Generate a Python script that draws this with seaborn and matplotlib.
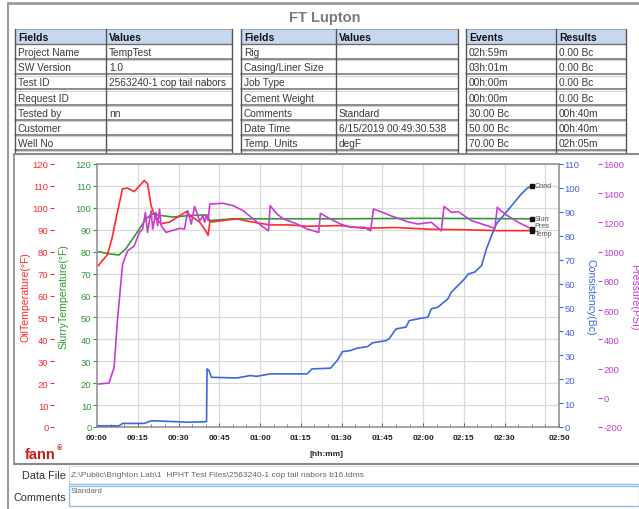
import numpy as np
import matplotlib
matplotlib.use("Agg")
import matplotlib.pyplot as plt
from matplotlib.patches import Rectangle
from matplotlib.ticker import FixedLocator, MultipleLocator, FuncFormatter
import seaborn as sns

# ---- values (time in minutes from start) ----
oil_t = [0.5, 2.0, 3.8, 5.5, 7.5, 9.4, 11.2, 13.7, 15.6, 17.4, 18.6, 19.9, 21.7, 23.6, 26.7,
         29.7, 32.9, 34.1, 37.8, 40.3, 40.9, 41.5, 46.4, 51.4, 56.3, 63.7, 71.1, 77.3, 89.6,
         98.0, 110.0, 123.0, 135.0, 147.7, 160.0]
oil_temp = [73.6, 76.0, 78.5, 86.0, 98.0, 108.7, 109.0, 107.4, 110.0, 112.5, 111.0, 101.0, 95.0,
            92.7, 93.5, 95.8, 98.3, 96.5, 93.5, 88.9, 87.4, 93.5, 94.2, 95.0, 93.7, 92.2, 92.2,
            91.6, 91.9, 90.7, 91.0, 90.2, 90.0, 89.6, 89.6]

slurry_t = [0.5, 4.5, 8.1, 10.6, 13.1, 15.6, 18.0, 20.5, 23.6, 27.9, 34.1, 40.3, 41.5, 50.1,
            58.8, 71.1, 89.6, 120.0, 160.0]
slurry_temp = [80.0, 79.0, 78.5, 81.3, 85.8, 90.4, 95.0, 97.3, 96.5, 95.8, 96.5, 96.8, 94.2,
               95.0, 95.0, 95.0, 95.0, 95.2, 95.0]

press_t = [0.5, 4.4, 6.3, 7.5, 9.4, 11.2, 13.7, 15.6, 16.8, 17.8, 18.6, 19.9, 20.5, 21.7, 22.3,
           23.0, 23.6, 25.4, 30.4, 32.2, 33.4, 34.7, 35.9, 37.8, 39.0, 39.6, 40.3, 40.9, 41.5,
           46.4, 50.1, 53.8, 57.5, 61.2, 63.1, 63.7, 66.2, 68.6, 73.6, 77.3, 81.6, 82.2, 85.9,
           89.6, 93.3, 98.3, 100.7, 101.7, 104.4, 108.1, 114.3, 118.0, 123.0, 126.7, 127.7,
           130.4, 132.9, 137.8, 142.7, 146.4, 147.3, 150.1, 155.0, 160.0]
pressure = [94, 101, 208, 527, 910, 1004, 1040, 1132, 1155, 1269, 1132, 1280, 1155, 1269, 1178,
            1292, 1178, 1132, 1160, 1155, 1280, 1189, 1310, 1212, 1246, 1201, 1251, 1212, 1326,
            1331, 1315, 1280, 1224, 1167, 1143, 1315, 1258, 1224, 1189, 1155, 1132, 1262, 1224,
            1189, 1167, 1167, 1143, 1292, 1274, 1246, 1205, 1189, 1201, 1143, 1310, 1269, 1274,
            1212, 1183, 1160, 1303, 1258, 1201, 1155]

cons_t = [0.5, 8.1, 9.4, 17.4, 19.9, 29.7, 32.9, 40.3, 40.5, 41.2, 42.1, 51.4, 56.3, 58.8,
          63.7, 77.3, 79.1, 85.9, 88.4, 90.3, 93.3, 95.8, 99.5, 101.4, 106.3, 107.5, 110.0,
          113.7, 114.9, 119.3, 121.7, 123.0, 125.4, 129.1, 130.4, 135.3, 136.6, 139.0, 141.5,
          143.3, 145.2, 147.0, 150.1, 153.2, 155.7, 158.1, 160.0]
consistency = [0.5, 0.5, 1.5, 1.5, 2.6, 2.2, 2.0, 2.2, 24.3, 23.6, 20.8, 20.5, 21.5, 21.2,
               22.2, 22.2, 24.3, 24.6, 27.8, 31.5, 32.0, 33.0, 33.6, 35.2, 36.1, 36.9, 41.0,
               41.8, 44.5, 45.5, 45.9, 49.4, 50.1, 53.6, 56.4, 62.0, 64.0, 64.8, 67.5, 74.5,
               80.1, 85.0, 89.2, 93.4, 96.9, 99.7, 101.0]

x_ticks = [0, 15, 30, 45, 60, 75, 90, 105, 120, 135, 150, 170]

left_rows = [("Project Name", "TempTest"), ("SW Version", "1.0"),
             ("Test ID", "2563240-1 cop tail nabors"), ("Request ID", ""),
             ("Tested by", "nn"), ("Customer", ""), ("Well No", "")]
mid_rows = [("Rig", ""), ("Casing/Liner Size", ""), ("Job Type", ""), ("Cement Weight", ""),
            ("Comments", "Standard"), ("Date Time", "6/15/2019 00:49:30.538"),
            ("Temp. Units", "degF")]
event_rows = [("02h:59m", "0.00 Bc"), ("03h:01m", "0.00 Bc"), ("00h:00m", "0.00 Bc"),
              ("00h:00m", "0.00 Bc"), ("30.00 Bc", "00h:40m"), ("50.00 Bc", "00h:40m"),
              ("70.00 Bc", "02h:05m")]

RED, GREEN, BLUE, MAG = "#ff2a2a", "#2f9a2f", "#3a68e0", "#c93bd6"

sns.set_style("white")
plt.rcParams["font.family"] = ["Liberation Sans", "DejaVu Sans"]
plt.rcParams["axes.unicode_minus"] = False

W, H = 639, 510
fig = plt.figure(figsize=(W / 100, H / 100), dpi=100)


def box(x0, y0, x1, y1):
    return [x0 / W, 1 - y1 / H, (x1 - x0) / W, (y1 - y0) / H]


# background layer in pixel coordinates for the report frame and tables
bg = fig.add_axes([0, 0, 1, 1])
bg.set_xlim(0, W)
bg.set_ylim(H, 0)
bg.axis("off")

bg.plot([8, 639], [4, 4], color="#9a9a9a", lw=2)
bg.plot([8, 8], [4, 510], color="#9a9a9a", lw=1.5)
bg.text(325, 18, "FT Lupton", ha="center", va="center", fontsize=10.5, fontweight="bold",
        color="#7a7a7a")


def draw_table(x0, xm, x1, head, rows):
    top, hb, rh = 30, 45, 15.15
    bg.add_patch(Rectangle((x0, top), x1 - x0, hb - top, facecolor="#c6d8ef", edgecolor="none"))
    bg.text(x0 + 3, (top + hb) / 2 + 0.5, head[0], fontsize=7.5, fontweight="bold",
            va="center", color="#111")
    bg.text(xm + 3, (top + hb) / 2 + 0.5, head[1], fontsize=7.5, fontweight="bold",
            va="center", color="#111")
    bottom = hb + rh * len(rows)
    for i, (a, b) in enumerate(rows):
        yc = hb + rh * (i + 0.5) + 0.5
        cell_a = Rectangle((x0, hb + rh * i), xm - x0 - 1, rh, transform=bg.transData)
        cell_b = Rectangle((xm, hb + rh * i), x1 - xm - 1, rh, transform=bg.transData)
        ta = bg.text(x0 + 3, yc, a, fontsize=7.3, va="center", color="#3a3a3a")
        tb = bg.text(xm + 3, yc, b, fontsize=7.3, va="center", color="#3a3a3a")
        ta.set_clip_path(cell_a)
        tb.set_clip_path(cell_b)
        yl = hb + rh * (i + 1)
        bg.plot([x0, x1], [yl, yl], color="#6e6e6e", lw=1.1)
        bg.plot([x0, x1], [yl + 1.3, yl + 1.3], color="#c8c8c8", lw=0.6)
    bg.plot([x0, x1], [hb, hb], color="#6e6e6e", lw=1.0)
    bg.plot([x0, x1], [top, top], color="#9a9a9a", lw=0.6)
    for xx in (x0, xm, x1):
        bg.plot([xx, xx], [top, bottom + 1.5], color="#555", lw=1.0)


draw_table(15, 106, 232, ("Fields", "Values"), left_rows)
draw_table(241, 336, 458, ("Fields", "Values"), mid_rows)
draw_table(466, 556, 626, ("Events", "Results"), event_rows)

# chart box
bg.plot([14, 639], [155, 155], color="#8a8a8a", lw=1.5)
bg.plot([14, 639], [465, 465], color="#8a8a8a", lw=1.5)
bg.plot([14, 14], [155, 465], color="#8a8a8a", lw=1.2)

# data file / comments fields
bg.text(66, 476, "Data File", ha="right", va="center", fontsize=7.8, color="#333")
bg.add_patch(Rectangle((69, 467), 570, 18, facecolor="white", edgecolor="#d5d5d5", lw=0.6))
bg.plot([69, 639], [485, 485], color="#8dbde8", lw=1.0)
bg.text(71, 476, r"Z:\Public\Brighton Lab\1  HPHT Test Files\2563240-1 cop tail nabors b16.tdms",
        va="center", fontsize=6.0, color="#666")
bg.text(66, 498, "Comments", ha="right", va="center", fontsize=7.8, color="#333")
bg.add_patch(Rectangle((69, 487), 570, 20, facecolor="white", edgecolor="#8dbde8", lw=1.0))
bg.text(71, 492, "Standard", va="center", fontsize=5.6, color="#666")

# fann logo
bg.text(25, 455, "fann", fontsize=10.5, fontweight="bold", color="#d01818", va="center")
bg.text(57, 449, "®", fontsize=5, fontweight="bold", color="#d01818", va="center")

# ---- the chart ----
ax = fig.add_axes(box(97, 165, 559, 428))
ax_red = ax.twinx()
ax_bc = ax.twinx()
ax_p = ax.twinx()

sns.lineplot(x=slurry_t, y=slurry_temp, ax=ax, color=GREEN, lw=1.2, estimator=None)
sns.lineplot(x=oil_t, y=oil_temp, ax=ax_red, color=RED, lw=1.2, estimator=None)
sns.lineplot(x=cons_t, y=consistency, ax=ax_bc, color=BLUE, lw=1.2, estimator=None)
sns.lineplot(x=press_t, y=pressure, ax=ax_p, color=MAG, lw=1.2, estimator=None)

ax.set_xlim(0, 170)
for a in (ax, ax_red):
    a.set_ylim(0, 120)
    a.yaxis.set_major_locator(MultipleLocator(10))
ax_bc.set_ylim(0, 110)
ax_bc.yaxis.set_major_locator(MultipleLocator(10))
ax_p.set_ylim(-200, 1600)
ax_p.yaxis.set_major_locator(MultipleLocator(200))

for a in (ax, ax_red, ax_bc, ax_p):
    a.set_xlabel("")
    a.set_ylabel("")
    for s in a.spines.values():
        s.set_visible(False)

for s in ax.spines.values():
    s.set_visible(True)
    s.set_color("#8c8c8c")
    s.set_linewidth(1.1)

ax.grid(axis="y", color="#dadada", lw=0.9)
ax.vlines(np.arange(15, 166, 15), 0, 120, color="#dadada", lw=0.9, zorder=0)
ax.set_axisbelow(True)

ax.xaxis.set_major_locator(FixedLocator(x_ticks))
ax.xaxis.set_minor_locator(MultipleLocator(5))
ax.xaxis.set_major_formatter(FuncFormatter(lambda v, p: f"{int(v) // 60:02d}:{int(v) % 60:02d}"))
ax.tick_params(axis="x", which="major", direction="in", length=3, width=0.7, color="#666",
               labelsize=6, pad=5, bottom=True)
ax.tick_params(axis="x", which="minor", direction="in", length=2, width=0.6, color="#666",
               bottom=True)
for lab in ax.get_xticklabels():
    lab.set_fontweight("bold")
    lab.set_color("#222")

ax.tick_params(axis="y", direction="out", length=3, width=0.8, color=GREEN, labelcolor=GREEN,
               labelsize=6.8, pad=1, left=True)

ax_red.yaxis.set_ticks_position("left")
ax_red.spines["left"].set_position(("outward", 31))
ax_red.tick_params(axis="y", direction="out", length=3, width=0.8, color=RED, labelcolor=RED,
                   labelsize=6.8, pad=1)

ax_bc.yaxis.set_ticks_position("right")
ax_bc.tick_params(axis="y", direction="out", length=3, width=0.8, color=BLUE, labelcolor=BLUE,
                  labelsize=6.8, pad=1)

ax_p.yaxis.set_ticks_position("right")
ax_p.spines["right"].set_position(("outward", 28))
ax_p.tick_params(axis="y", direction="out", length=3, width=0.8, color=MAG, labelcolor=MAG,
                 labelsize=6.8, pad=1)

# end-of-series markers and short names
for a, tt, vv, name, dy in ((ax_bc, cons_t, consistency, "Cond", 0),
                            (ax, slurry_t, slurry_temp, "Slurr", 0),
                            (ax_p, press_t, pressure, "Pres", 2.6),
                            (ax_red, oil_t, oil_temp, "Temp", -2.4)):
    a.plot(tt[-1], vv[-1], marker="s", ms=2.2, color="#111", zorder=5)
    a.annotate(name, (tt[-1], vv[-1]), xytext=(2, dy), textcoords="offset points",
               fontsize=5.2, color="#555", va="center")

# axis titles
fig.text(26 / W, 1 - 297 / H, "OilTemperature(°F)", rotation=90, ha="center", va="center",
         fontsize=7.6, color=RED)
fig.text(63 / W, 1 - 297 / H, "SlurryTemperature(°F)", rotation=90, ha="center", va="center",
         fontsize=7.6, color=GREEN)
fig.text(591 / W, 1 - 297 / H, "Consistency(Bc)", rotation=270, ha="center", va="center",
         fontsize=7.6, color=BLUE)
fig.text(634 / W, 1 - 297 / H, "Pressure(PSI)", rotation=270, ha="center", va="center",
         fontsize=7.6, color=MAG)
fig.text(327 / W, 1 - 455 / H, "[hh:mm]", ha="center", va="center", fontsize=6,
         fontweight="bold", color="#222")

fig.savefig("out.png", dpi=100)
plt.close(fig)
